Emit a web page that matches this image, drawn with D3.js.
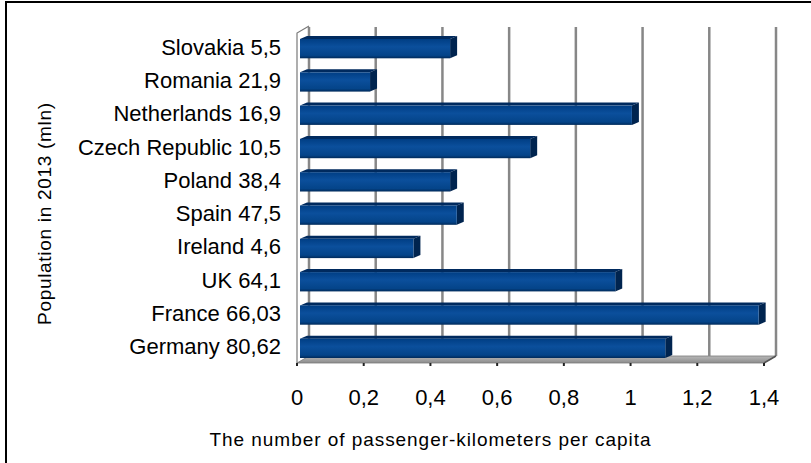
<!DOCTYPE html>
<html lang="en">
<head>
  <meta charset="UTF-8">
  <title>Passenger-kilometers per capita</title>
  <script src="https://d3js.org/d3.v7.min.js"></script>
  <style>
    body {
      margin: 0;
      background: #fff;
    }

    svg {
      width: 811px;
      height: 463px;
      display: block;
      font-family: "Liberation Sans", Arial, sans-serif;
    }
  </style>
</head>
<body>
  <svg></svg>

  <script>
    const countries = [`Slovakia`, `Romania`, `Netherlands`, `Czech Republic`, `Poland`,
      `Spain`, `Ireland`, `UK`, `France`, `Germany`];
    const population = [`5,5`, `21,9`, `16,9`, `10,5`, `38,4`, `47,5`, `4,6`, `64,1`, `66,03`, `80,62`];
    const values = [0.45, 0.21, 0.995, 0.69, 0.45, 0.47, 0.34, 0.945, 1.375, 1.095];
    const xTicks = [0, 0.2, 0.4, 0.6, 0.8, 1, 1.2, 1.4];

    const margin = {top: 30, bottom: 100, left: 297, right: 44};
    const width = 811;
    const height = 463;
    // 3d depth of the chart box and of each bar
    const depth = {dx: 12, dy: -7};
    const barDepth = {dx: 7, dy: -3};

    const xScale = d3.scaleLinear()
      .domain([0, 1.4])
      .range([margin.left, width - margin.right - 3]);

    const yScale = d3.scaleBand()
      .domain(countries)
      .range([margin.top + 2, height - margin.bottom + 2])
      .paddingInner(0.42)
      .paddingOuter(0.21);

    const bandScale = d3.scaleBand()
      .domain(countries)
      .range([margin.top, height - margin.bottom]);

    const fmt = v => String(v).replace(`.`, `,`);
    const floorY = height - margin.bottom;
    const topY = margin.top;

    const svg = d3.select(`svg`);
    const defs = svg.append(`defs`);

    const barGrad = defs.append(`linearGradient`)
      .attr(`id`, `barGrad`)
      .attr(`x1`, 0).attr(`y1`, 0).attr(`x2`, 0).attr(`y2`, 1);
    barGrad.append(`stop`).attr(`offset`, `0%`).attr(`stop-color`, `#003e84`);
    barGrad.append(`stop`).attr(`offset`, `40%`).attr(`stop-color`, `#0b4f9c`);
    barGrad.append(`stop`).attr(`offset`, `85%`).attr(`stop-color`, `#044489`);
    barGrad.append(`stop`).attr(`offset`, `100%`).attr(`stop-color`, `#002a5a`);

    const floorGrad = defs.append(`linearGradient`)
      .attr(`id`, `floorGrad`)
      .attr(`x1`, 0).attr(`y1`, 0).attr(`x2`, 0).attr(`y2`, 1);
    floorGrad.append(`stop`).attr(`offset`, `0%`).attr(`stop-color`, `#b8b8b8`);
    floorGrad.append(`stop`).attr(`offset`, `100%`).attr(`stop-color`, `#8c8c8c`);

    // outer frame
    svg.append(`rect`)
      .attr(`x`, 6).attr(`y`, 2)
      .attr(`width`, 900).attr(`height`, 900)
      .attr(`fill`, `none`)
      .attr(`stroke`, `#000`)
      .attr(`stroke-width`, 2);

    // floor
    const x0 = xScale(0), x1 = xScale(1.4);
    svg.append(`polygon`)
      .attr(`points`, [
        [x0, floorY], [x1, floorY],
        [x1 + depth.dx, floorY + depth.dy], [x0 + depth.dx, floorY + depth.dy]
      ].join(` `))
      .attr(`fill`, `url(#floorGrad)`)
      .attr(`stroke`, `#7a7a7a`)
      .attr(`stroke-width`, 0.8);

    // back wall gridlines
    svg.selectAll(`.grid`)
      .data(xTicks)
      .enter()
      .append(`line`)
      .attr(`class`, `grid`)
      .attr(`x1`, d => xScale(d) + depth.dx)
      .attr(`x2`, d => xScale(d) + depth.dx)
      .attr(`y1`, topY + depth.dy + 4)
      .attr(`y2`, floorY + depth.dy)
      .attr(`stroke`, `#878787`)
      .attr(`stroke-width`, 2.5);

    // left wall edge
    svg.append(`path`)
      .attr(`d`, `M${x0},${floorY} L${x0},${topY + 3} L${x0 + depth.dx},${topY + depth.dy + 3}`)
      .attr(`fill`, `none`)
      .attr(`stroke`, `#7a7a7a`)
      .attr(`stroke-width`, 1.2);

    // right wall edge
    svg.append(`path`)
      .attr(`d`, `M${x1},${floorY} L${x1 + depth.dx},${floorY + depth.dy}`)
      .attr(`fill`, `none`)
      .attr(`stroke`, `#555`)
      .attr(`stroke-width`, 1.5);

    // bars (front face, top face, end cap)
    const bars = svg.selectAll(`.bar`)
      .data(countries)
      .enter()
      .append(`g`)
      .attr(`class`, `bar`)
      .attr(`transform`, `translate(3, 0)`);

    const bx = () => xScale(0);
    const bw = (d, i) => xScale(values[i]) - xScale(0);

    bars.append(`polygon`)
      .attr(`points`, (d, i) => {
        const y = yScale(d), w = bw(d, i), l = bx();
        return [[l, y], [l + barDepth.dx, y + barDepth.dy],
          [l + w + barDepth.dx, y + barDepth.dy], [l + w, y]].join(` `);
      })
      .attr(`fill`, `#002a5e`);

    bars.append(`polygon`)
      .attr(`points`, (d, i) => {
        const y = yScale(d), w = bw(d, i), l = bx(), h = yScale.bandwidth();
        return [[l + w, y], [l + w + barDepth.dx, y + barDepth.dy],
          [l + w + barDepth.dx, y + h + barDepth.dy], [l + w, y + h]].join(` `);
      })
      .attr(`fill`, `#00244f`);

    bars.append(`rect`)
      .attr(`x`, bx)
      .attr(`y`, d => yScale(d))
      .attr(`width`, bw)
      .attr(`height`, yScale.bandwidth())
      .attr(`fill`, `url(#barGrad)`);

    // category labels
    svg.selectAll(`.cat`)
      .data(countries)
      .enter()
      .append(`text`)
      .attr(`class`, `cat`)
      .attr(`x`, 281)
      .attr(`y`, d => bandScale(d) + bandScale.bandwidth() / 2 + 8)
      .attr(`text-anchor`, `end`)
      .attr(`font-size`, 22)
      .attr(`fill`, `#000`)
      .text((d, i) => `${d} ${population[i]}`);

    // x ticks and labels
    svg.selectAll(`.tick`)
      .data(xTicks)
      .enter()
      .append(`line`)
      .attr(`class`, `tick`)
      .attr(`x1`, d => xScale(d))
      .attr(`x2`, d => xScale(d))
      .attr(`y1`, floorY)
      .attr(`y2`, floorY + 3)
      .attr(`stroke`, `#222`)
      .attr(`stroke-width`, 2);

    svg.selectAll(`.xlab`)
      .data(xTicks)
      .enter()
      .append(`text`)
      .attr(`class`, `xlab`)
      .attr(`x`, d => xScale(d))
      .attr(`y`, 405)
      .attr(`text-anchor`, `middle`)
      .attr(`font-size`, 22)
      .text(fmt);

    // axis titles
    svg.append(`text`)
      .attr(`x`, 430)
      .attr(`y`, 446)
      .attr(`text-anchor`, `middle`)
      .attr(`font-size`, 19)
      .attr(`textLength`, 441)
      .text(`The number of passenger-kilometers per capita`);

    svg.append(`text`)
      .attr(`transform`, `translate(51, 214) rotate(-90)`)
      .attr(`text-anchor`, `middle`)
      .attr(`font-size`, 19)
      .attr(`textLength`, 222)
      .text(`Population in 2013 (mln)`);
  </script>
</body>
</html>
